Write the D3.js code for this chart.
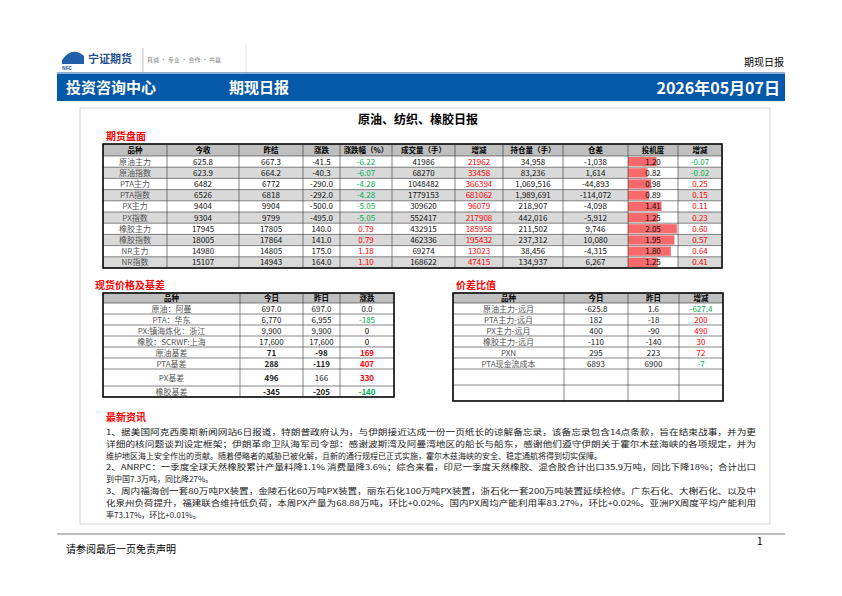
<!DOCTYPE html>
<html><head><meta charset="utf-8">
<script src="https://cdn.jsdelivr.net/npm/d3@7"></script>
<style>body{margin:0;background:#fff}svg{display:block;font-family:"Noto Sans CJK SC","Noto Sans",sans-serif}</style>
</head><body><div id="chart"></div>
<script>
// futures table
const futNames = ['原油主力','原油指数','PTA主力','PTA指数','PX主力','PX指数','橡胶主力','橡胶指数','NR主力','NR指数']
const futClose = ['625.8','623.9','6482','6526','9404','9304','17945','18005','14980','15107']
const futSettle = ['667.3','664.2','6772','6818','9904','9799','17805','17864','14805','14943']
const futChg = ['-41.5','-40.3','-290.0','-292.0','-500.0','-495.0','140.0','141.0','175.0','164.0']
const futPct = [-6.22,-6.07,-4.28,-4.28,-5.05,-5.05,0.79,0.79,1.18,1.10]
const futVol = ['41986','68270','1048482','1779153','309620','552417','432915','462336','69274','168622']
const futVolChg = ['21962','33458','366394','681062','96079','217908','185958','195432','13023','47415']
const futOI = ['34,958','83,236','1,069,516','1,989,691','218,907','442,016','211,502','237,312','38,456','134,937']
const futOIChg = ['-1,038','1,614','-44,893','-114,072','-4,098','-5,912','9,746','10,080','-4,315','6,267']
const futSpec = [1.20,0.82,0.98,0.89,1.41,1.25,2.05,1.95,1.80,1.25]
const futSpecChg = [-0.07,-0.02,0.25,0.15,0.11,0.23,0.60,0.57,0.64,0.41]
const futHeaders = ['品种','今收','昨结','涨跌','涨跌幅（%）','成交量（手）','增减','持仓量（手）','仓差','投机度','增减']

// spot table
const spotNames = ['原油：阿曼','PTA：华东','PX:镇海炼化：浙江','橡胶：SCRWF:上海','原油基差','PTA基差','PX基差','橡胶基差']
const spotToday = ['697.0','6,770','9,900','17,600','71','288','496','-345']
const spotPrev = ['697.0','6,955','9,900','17,600','-98','-119','166','-205']
const spotChg = ['0.0','-185','0','0','169','407','330','-140']
const spotHeaders = ['品种','今日','昨日','涨跌']

// spread table
const sprNames = ['原油主力-远月','PTA主力-远月','PX主力-远月','橡胶主力-远月','PXN','PTA现金流成本','','']
const sprToday = ['-625.8','182','400','-110','295','6893','','']
const sprPrev = ['1.6','-18','-90','-140','223','6900','','']
const sprChg = ['-627.4','200','490','30','72','-7','','']
const sprHeaders = ['品种','今日','昨日','增减']

const newsLines = [
  '1、据美国阿克西奥斯新闻网站6日报道，特朗普政府认为，与伊朗接近达成一份一页纸长的谅解备忘录，该备忘录包含14点条款，旨在结束战事，并为更',
  '详细的核问题谈判设定框架；伊朗革命卫队海军司令部：感谢波斯湾及阿曼湾地区的船长与船东，感谢他们遵守伊朗关于霍尔木兹海峡的各项规定，并为',
  '维护地区海上安全作出的贡献。随着侵略者的威胁已被化解，且新的通行规程已正式实施，霍尔木兹海峡的安全、稳定通航将得到切实保障。',
  '2、ANRPC：一季度全球天然橡胶累计产量料降1.1% 消费量降3.6%；综合来看，印尼一季度天然橡胶、混合胶合计出口35.9万吨，同比下降18%；合计出口',
  '到中国7.3万吨，同比降27%。',
  '3、周内福海创一套80万吨PX装置，金陵石化60万吨PX装置，丽东石化100万吨PX装置，浙石化一套200万吨装置延续检修。广东石化、大榭石化、以及中',
  '化泉州负荷提升，福建联合维持低负荷，本周PX产量为68.88万吨，环比+0.02%。国内PX周均产能利用率83.27%，环比+0.02%。亚洲PX周度平均产能利用',
  '率73.17%，环比+0.01%。'
]
const newsFull = [true,true,false,true,false,true,true,false]

const RED = '#ff0000', GREEN = '#00b050', GRAY = '#d9d9d9', HEAD = '#bfbfbf'
const signColor = v => (+String(v).replace(/,/g, '') > 0 ? RED : +String(v).replace(/,/g, '') < 0 ? GREEN : '#000')

const svg = d3.select('#chart').append('svg').attr('width', 842).attr('height', 596)

// header
const logo = svg.append('g')
logo.append('path').attr('d', 'M62,60 Q72,46 84,56 L84,64 L62,64 Z').attr('fill', '#1f5fa8')
logo.append('text').attr('x', 62).attr('y', 70).attr('font-size', 5).attr('font-weight', 700).attr('fill', '#1f5fa8').text('NFC')
logo.append('text').attr('x', 88).attr('y', 63).attr('font-size', 11).attr('font-weight', 700).attr('fill', '#1f4f8f').text('宁证期货')
logo.append('line').attr('x1', 143).attr('x2', 143).attr('y1', 48).attr('y2', 72).attr('stroke', '#999').attr('stroke-width', 0.6)
logo.append('text').attr('x', 147).attr('y', 62).attr('font-size', 6).attr('fill', '#888').text('真诚 · 专业 · 合作 · 共赢')
logo.append('line').attr('x1', 246).attr('x2', 246).attr('y1', 44).attr('y2', 74).attr('stroke', '#ccc').attr('stroke-width', 0.5)
svg.append('text').attr('x', 784).attr('y', 66).attr('text-anchor', 'end').attr('font-size', 10).text('期现日报')
svg.append('line').attr('x1', 57).attr('x2', 785).attr('y1', 73).attr('y2', 73).attr('stroke', '#1f5fa8').attr('stroke-width', 1)
svg.append('rect').attr('x', 57).attr('y', 74).attr('width', 728).attr('height', 27).attr('fill', '#0659a8')
svg.append('text').attr('x', 66).attr('y', 93).attr('font-size', 15).attr('font-weight', 700).attr('fill', '#fff').text('投资咨询中心')
svg.append('text').attr('x', 229).attr('y', 93).attr('font-size', 15).attr('font-weight', 700).attr('fill', '#fff').text('期现日报')
svg.append('text').attr('x', 780).attr('y', 94).attr('text-anchor', 'end').attr('font-size', 16).attr('font-weight', 700).attr('fill', '#fff').text('2026年05月07日')

// content frame
svg.append('rect').attr('x', 80).attr('y', 108).attr('width', 690).attr('height', 416).attr('fill', 'none').attr('stroke', '#c8c8c8').attr('stroke-width', 0.8)
svg.append('text').attr('x', 418).attr('y', 124).attr('text-anchor', 'middle').attr('font-size', 12).attr('font-weight', 700).text('原油、纺织、橡胶日报')

const sectionTitle = (x, y, t) => svg.append('text').attr('x', x).attr('y', y).attr('font-size', 10).attr('font-weight', 700).attr('fill', RED).text(t)

function drawTable({ edges, top, rowH, headers, rows, rowFill, cellColor, cellWeight, extra }) {
  const g = svg.append('g')
  const n = rows.length
  const ys = [top, top + rowH[0]]
  for (let i = 0; i < n; i++) ys.push(ys[ys.length - 1] + rowH[i + 1])
  // header
  headers.forEach((h, c) => {
    g.append('rect').attr('x', edges[c]).attr('y', ys[0]).attr('width', edges[c + 1] - edges[c]).attr('height', rowH[0]).attr('fill', HEAD)
    g.append('text').attr('x', (edges[c] + edges[c + 1]) / 2).attr('y', ys[0] + rowH[0] / 2 + 3).attr('text-anchor', 'middle').attr('font-size', 7.5).attr('font-weight', 700).text(h)
  })
  rows.forEach((r, i) => {
    const y0 = ys[i + 1], h = rowH[i + 1]
    r.forEach((v, c) => {
      g.append('rect').attr('x', edges[c]).attr('y', y0).attr('width', edges[c + 1] - edges[c]).attr('height', h).attr('fill', rowFill(i, c))
      if (extra) extra(g, i, c, edges[c], y0, edges[c + 1] - edges[c], h)
      g.append('text').attr('x', (edges[c] + edges[c + 1]) / 2).attr('y', y0 + h / 2 + 3).attr('text-anchor', 'middle')
        .attr('font-size', 8).attr('fill', cellColor(i, c, v)).attr('font-weight', cellWeight ? cellWeight(i, c) : 400).text(v)
    })
  })
  // grid
  edges.forEach(x => g.append('line').attr('x1', x).attr('x2', x).attr('y1', ys[0]).attr('y2', ys[ys.length - 1]).attr('stroke', '#333').attr('stroke-width', 0.6))
  ys.forEach(y => g.append('line').attr('x1', edges[0]).attr('x2', edges[edges.length - 1]).attr('y1', y).attr('y2', y).attr('stroke', '#333').attr('stroke-width', 0.6))
  g.append('rect').attr('x', edges[0]).attr('y', ys[0]).attr('width', edges[edges.length - 1] - edges[0]).attr('height', ys[ys.length - 1] - ys[0])
    .attr('fill', 'none').attr('stroke', '#111').attr('stroke-width', 1.6)
}

// futures
sectionTitle(106, 140, '期货盘面')
const futRows = futNames.map((d, i) => [d, futClose[i], futSettle[i], futChg[i], futPct[i].toFixed(2), futVol[i], futVolChg[i], futOI[i], futOIChg[i], futSpec[i].toFixed(2), futSpecChg[i].toFixed(2)])
const futEdges = [103, 167, 239, 303, 340, 392, 455, 503, 563, 628, 678, 722]
const specX = d3.scaleLinear().domain([0, 2.1]).range([0, futEdges[10] - futEdges[9]])
drawTable({
  edges: futEdges, top: 144, rowH: [12].concat(futNames.map(() => 11.2)), headers: futHeaders, rows: futRows,
  rowFill: (i, c) => (c === 9 ? '#fff' : i % 2 ? GRAY : '#fff'),
  cellColor: (i, c, v) => c === 4 || c === 10 ? signColor(v) : c === 6 ? RED : c === 0 ? '#555' : '#111',
  extra: (g, i, c, x, y, w, h) => {
    if (c === 9) g.append('rect').attr('x', x).attr('y', y + 1).attr('width', specX(futSpec[i])).attr('height', h - 2).attr('fill', '#f8696b')
  }
})

// spot
sectionTitle(95, 289, '现货价格及基差')
const spotRows = spotNames.map((d, i) => [d, spotToday[i], spotPrev[i], spotChg[i]])
drawTable({
  edges: [103, 240, 303, 340, 394], top: 293, rowH: [10, 11, 11, 11, 11, 11, 11, 17, 11], headers: spotHeaders, rows: spotRows,
  rowFill: () => '#fff',
  cellColor: (i, c, v) => c === 3 && i !== 0 ? signColor(v) : c === 0 ? '#555' : '#222',
  cellWeight: (i, c) => (i >= 4 && c !== 0 && !(i === 6 && c === 2) ? 700 : 400)
})

// spread
sectionTitle(456, 289, '价差比值')
const sprRows = sprNames.map((d, i) => [d, sprToday[i], sprPrev[i], sprChg[i]])
drawTable({
  edges: [453, 564, 628, 679, 723], top: 293, rowH: [10, 11, 11, 11, 11, 11, 11, 16, 16], headers: sprHeaders, rows: sprRows,
  rowFill: () => '#fff',
  cellColor: (i, c, v) => c === 3 ? signColor(v) : c === 0 ? '#555' : '#222'
})

// news
sectionTitle(106, 421, '最新资讯')
svg.append('g').selectAll('text').data(newsLines).join('text')
  .attr('x', 106).attr('y', (d, i) => 435 + i * 11.8).attr('font-size', 8).attr('fill', '#222')
  .each(function (d, i) { if (newsFull[i]) d3.select(this).attr('textLength', 650).attr('lengthAdjust', 'spacingAndGlyphs') })
  .text(d => d)

// footer
svg.append('line').attr('x1', 57).attr('x2', 785).attr('y1', 534).attr('y2', 534).attr('stroke', '#222').attr('stroke-width', 0.6)
svg.append('text').attr('x', 66).attr('y', 553).attr('font-size', 10).text('请参阅最后一页免责声明')
svg.append('text').attr('x', 757).attr('y', 545).attr('font-size', 10).text('1')
</script></body></html>
